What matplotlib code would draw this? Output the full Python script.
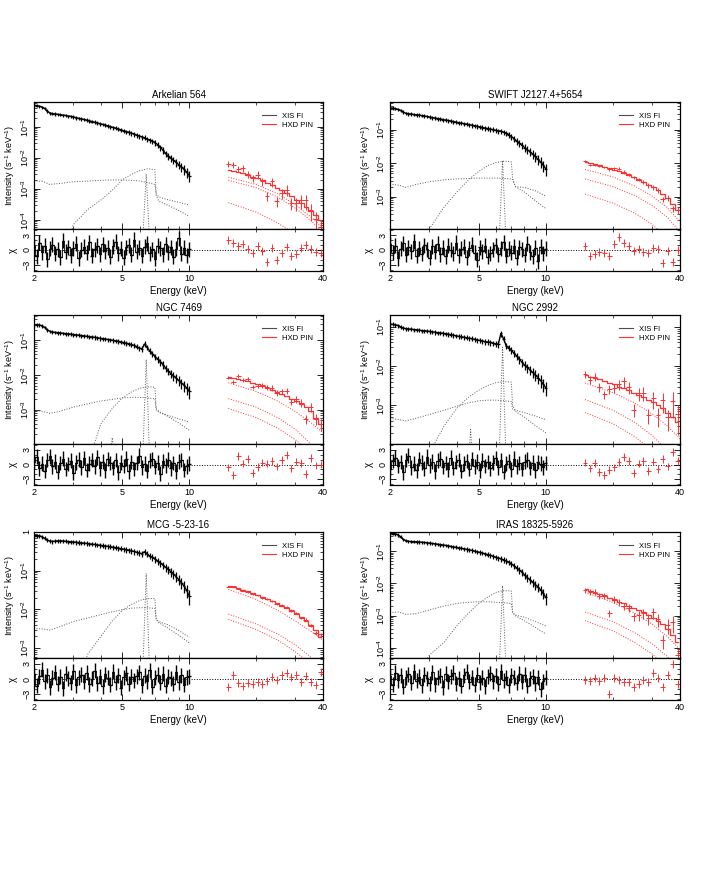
import numpy as np
import matplotlib
matplotlib.use("Agg")
import matplotlib.pyplot as plt
from matplotlib.ticker import FixedLocator, FuncFormatter, LogLocator, NullFormatter, MultipleLocator

plt.rcParams['font.family'] = ['Liberation Sans', 'DejaVu Sans']
plt.rcParams['mathtext.default'] = 'regular'

# ---- energy grids (keV) ----
xis_e = [2.00, 2.06, 2.11, 2.17, 2.23, 2.29, 2.36, 2.42, 2.49, 2.56,
         2.63, 2.70, 2.78, 2.85, 2.93, 3.01, 3.09, 3.18, 3.27, 3.36,
         3.45, 3.55, 3.64, 3.75, 3.85, 3.96, 4.07, 4.18, 4.29, 4.41,
         4.53, 4.66, 4.79, 4.92, 5.06, 5.20, 5.34, 5.49, 5.64, 5.79,
         5.95, 6.12, 6.29, 6.46, 6.64, 6.82, 7.01, 7.21, 7.41, 7.61,
         7.82, 8.04, 8.26, 8.49, 8.72, 8.96, 9.21, 9.47, 9.73, 9.99]
xis_relerr = [0.12, 0.12, 0.12, 0.12, 0.12, 0.12, 0.12, 0.12, 0.12, 0.12,
              0.12, 0.12, 0.12, 0.12, 0.12, 0.13, 0.13, 0.13, 0.13, 0.13,
              0.13, 0.13, 0.13, 0.14, 0.14, 0.14, 0.14, 0.14, 0.14, 0.15,
              0.15, 0.15, 0.15, 0.15, 0.16, 0.16, 0.16, 0.16, 0.17, 0.17,
              0.17, 0.18, 0.18, 0.18, 0.19, 0.19, 0.20, 0.21, 0.22, 0.23,
              0.24, 0.25, 0.26, 0.27, 0.28, 0.30, 0.32, 0.34, 0.36, 0.40]
comp_e = [2.0, 2.2, 2.35, 2.6, 3.0, 3.5, 4.0, 4.5, 5.0, 5.5, 6.0, 6.5, 7.0, 7.1, 7.3, 8.0, 9.0, 10.0]
hxd_e = [15.0, 15.8, 16.6, 17.4, 18.3, 19.3, 20.3, 21.3, 22.4, 23.6,
         24.8, 26.1, 27.4, 28.8, 30.3, 31.9, 33.5, 35.3, 37.1, 39.0]
hxd_errprof = [0.6, 0.6, 0.65, 0.7, 0.7, 0.75, 0.8, 0.85, 0.9, 0.95,
               1.0, 1.05, 1.1, 1.2, 1.3, 1.4, 1.5, 1.6, 1.8, 2.0]
hc_e = [15, 20, 25, 30, 35, 40]

# ---- Arkelian 564 ----
ark_xis = [0.50, 0.49, 0.47, 0.44, 0.40, 0.33, 0.28, 0.27, 0.265, 0.255,
           0.25, 0.24, 0.235, 0.225, 0.22, 0.21, 0.20, 0.19, 0.183, 0.175,
           0.167, 0.158, 0.15, 0.143, 0.135, 0.128, 0.121, 0.115, 0.109, 0.103,
           0.097, 0.092, 0.086, 0.081, 0.076, 0.071, 0.067, 0.063, 0.059, 0.055,
           0.051, 0.048, 0.045, 0.041, 0.038, 0.035, 0.031, 0.027, 0.022, 0.018,
           0.014, 0.0112, 0.0098, 0.0085, 0.0072, 0.0061, 0.0052, 0.0043, 0.0035, 0.0027]
ark_xis_res = [0.8, -1.2, 1.5, -0.4, 0.9, -1.8, 0.3, 1.1, -0.7, 0.2, -1.4, 1.9, -0.3, 0.6, -1.0,
               0.4, 1.3, -1.6, 0.1, 0.7, -0.5, 1.6, -1.1, 0.2, 0.9, -0.8, 1.2, -0.2, 0.5, -1.3,
               0.8, 1.7, -0.6, 0.3, -1.5, 0.6, 1.0, -0.9, 2.1, -0.3, 0.5, -1.1, 0.7, 1.4, -0.6,
               0.2, -1.7, 0.9, 0.4, -0.8, 1.2, -0.4, 0.6, -1.3, 0.3, 2.4, -0.7, 0.5, -1.0, 0.2]
ark_pl = [1.85e-3, 1.75e-3, 1.4e-3, 1.5e-3, 1.7e-3, 1.8e-3, 1.9e-3, 1.95e-3, 1.95e-3, 1.9e-3,
          1.8e-3, 1.6e-3, 1.4e-3, 7e-4, 5.5e-4, 4.5e-4, 3.7e-4, 3.0e-4]
ark_refl = [1e-6, 1e-6, 1e-6, 1e-6, 7e-5, 2.2e-4, 4.4e-4, 9e-4, 2e-3, 3e-3,
            3.9e-3, 4.5e-3, 4.2e-3, 6e-4, 4e-4, 3e-4, 2e-4, 1.3e-4]
ark_line = 3e-3
ark_hxd = [6.5e-3, 6.0e-3, 4.5e-3, 4.6e-3, 3.1e-3, 2.2e-3, 2.9e-3, 1.8e-3, 6e-4, 1.75e-3,
           4e-4, 7.5e-4, 9.5e-4, 3.5e-4, 3.5e-4, 4.3e-4, 4.3e-4, 2.1e-4, 1.1e-4, 6e-5]
ark_hxd_mod = [4.2e-3, 3.9e-3, 3.6e-3, 3.2e-3, 2.85e-3, 2.5e-3, 2.2e-3, 1.9e-3, 1.6e-3, 1.35e-3,
               1.1e-3, 9e-4, 7.3e-4, 5.8e-4, 4.5e-4, 3.4e-4, 2.6e-4, 1.9e-4, 1.4e-4, 1.0e-4]
ark_hxd_res = [2.0, 1.5, 0.8, 1.2, 0.3, -0.5, 0.9, -0.2, -2.3, 0.4,
               -2.0, -0.6, 0.7, -1.2, -0.8, 0.5, 1.0, 0.2, -0.4, -0.6]
ark_hc1 = [2.4e-3, 1.4e-3, 7e-4, 3.1e-4, 1.3e-4, 5.5e-5]
ark_hc2 = [1.9e-3, 1.1e-3, 5.5e-4, 2.4e-4, 1.0e-4, 4e-5]
ark_hc3 = [3.6e-4, 1.8e-4, 8e-5, 3.5e-5, 1.3e-5, 5e-6]

# ---- SWIFT J2127.4+5654 ----
swift_xis = [0.43, 0.435, 0.42, 0.40, 0.37, 0.33, 0.305, 0.295, 0.29, 0.28,
             0.275, 0.27, 0.26, 0.255, 0.245, 0.235, 0.228, 0.22, 0.213, 0.206,
             0.199, 0.192, 0.186, 0.179, 0.173, 0.166, 0.160, 0.155, 0.150, 0.145,
             0.140, 0.135, 0.130, 0.125, 0.120, 0.115, 0.111, 0.107, 0.103, 0.099,
             0.095, 0.091, 0.090, 0.084, 0.077, 0.070, 0.062, 0.053, 0.045, 0.039,
             0.034, 0.029, 0.025, 0.022, 0.019, 0.016, 0.013, 0.011, 0.0088, 0.0068]
swift_xis_res = [1.2, -0.5, 0.9, -1.6, 0.3, 1.4, -0.9, 0.6, -0.2, 1.8, -1.1, 0.4, -0.7, 1.0, 0.2,
                 -1.5, 0.8, -0.3, 1.3, -0.8, 0.5, -1.2, 0.9, 0.1, -0.6, 1.5, -1.0, 0.3, 0.7, -1.4,
                 0.4, 1.1, -0.5, -1.9, 0.6, -0.2, 0.9, -1.3, -0.6, 0.2, 1.0, -0.8, 0.4, 1.6, -1.1,
                 0.3, -0.5, 0.8, -1.5, 0.6, 0.2, -0.9, 1.3, -0.4, -1.2, 0.5, -2.2, 0.7, -0.6, 0.3]
swift_pl = [2.4e-3, 2.2e-3, 1.9e-3, 2.3e-3, 2.8e-3, 3.2e-3, 3.4e-3, 3.5e-3, 3.6e-3, 3.6e-3,
            3.6e-3, 3.5e-3, 3.4e-3, 3.3e-3, 2.0e-3, 1.9e-3, 1.5e-3, 1.05e-3]
swift_refl = [1e-6, 1e-6, 1e-6, 1e-6, 1.1e-4, 5e-4, 1.4e-3, 3.2e-3, 5.7e-3, 8.5e-3,
              1.05e-2, 1.15e-2, 1.1e-2, 3.5e-3, 2.0e-3, 1.4e-3, 7.5e-4, 4.5e-4]
swift_line = 1.2e-2
swift_hxd = [1.16e-2, 9.1e-3, 8.7e-3, 8.4e-3, 7.6e-3, 6.5e-3, 7.1e-3, 6.8e-3, 5.5e-3, 4.7e-3,
             3.75e-3, 3.3e-3, 2.7e-3, 2.2e-3, 1.95e-3, 1.58e-3, 8.5e-4, 9.4e-4, 4.5e-4, 4.0e-4]
swift_hxd_mod = [1.1e-2, 1.0e-2, 9.3e-3, 8.6e-3, 7.9e-3, 7.1e-3, 6.4e-3, 5.7e-3, 5.0e-3, 4.4e-3,
                 3.8e-3, 3.25e-3, 2.75e-3, 2.3e-3, 1.9e-3, 1.55e-3, 1.25e-3, 9.5e-4, 6e-4, 4e-4]
swift_hxd_res = [0.8, -1.2, -0.8, -0.4, -0.6, -1.1, 1.2, 2.6, 1.4, 0.9,
                 -0.2, 0.3, -0.4, -0.5, 0.5, 0.3, -2.5, -0.1, -2.4, 0.0]
swift_hc1 = [6.5e-3, 3.9e-3, 2.1e-3, 1.05e-3, 4.8e-4, 1.8e-4]
swift_hc2 = [3.4e-3, 2.0e-3, 1.1e-3, 5.5e-4, 2.5e-4, 9e-5]
swift_hc3 = [1.2e-3, 6.5e-4, 3.3e-4, 1.5e-4, 6e-5, 2e-5]

# ---- NGC 7469 ----
n7469_xis = [0.28, 0.28, 0.275, 0.26, 0.235, 0.20, 0.18, 0.172, 0.168, 0.165,
             0.162, 0.158, 0.155, 0.152, 0.149, 0.146, 0.143, 0.140, 0.136, 0.133,
             0.130, 0.127, 0.124, 0.121, 0.118, 0.114, 0.111, 0.108, 0.105, 0.102,
             0.099, 0.096, 0.093, 0.089, 0.086, 0.082, 0.079, 0.075, 0.071, 0.066,
             0.060, 0.056, 0.078, 0.062, 0.049, 0.041, 0.034, 0.029, 0.024, 0.020,
             0.016, 0.013, 0.011, 0.0095, 0.0082, 0.0070, 0.0060, 0.0051, 0.0043, 0.0035]
n7469_xis_res = [0.5, 1.6, -0.8, 0.2, -1.3, 0.9, 1.7, -0.4, 0.6, -1.5, 0.3, 1.2, -0.9, 0.1, 0.8,
                 -1.7, 0.4, 1.0, -0.6, 1.3, -1.1, 0.2, 0.9, -0.4, 1.5, -0.8, 0.6, -1.2, 1.1, 0.3,
                 -0.7, 0.9, -1.6, 0.4, -0.3, 1.2, -1.4, 0.5, -0.9, 0.3, 1.8, -0.6, 0.2, -1.3, 0.8,
                 1.1, -0.5, 0.4, -1.9, 0.7, -0.2, 1.0, -0.8, 0.3, -1.4, 0.6, 0.9, -1.1, -0.4, 0.2]
n7469_pl = [1.0e-3, 9e-4, 8e-4, 9e-4, 1.2e-3, 1.5e-3, 1.8e-3, 2.0e-3, 2.2e-3, 2.3e-3,
            2.3e-3, 2.2e-3, 2.1e-3, 1.0e-3, 8.5e-4, 7e-4, 5.5e-4, 4.5e-4]
n7469_refl = [1e-6, 1e-6, 1e-6, 1e-6, 1e-6, 3e-5, 4e-4, 1.1e-3, 2.2e-3, 3.3e-3,
              4.2e-3, 4.6e-3, 4.5e-3, 1.1e-3, 9e-4, 6.5e-4, 4.2e-4, 2.6e-4]
n7469_line = 2.8e-2
n7469_weak = (4.5, 1.6e-4)
n7469_hxd = [8.4e-3, 6.4e-3, 9.4e-3, 7.4e-3, 7.6e-3, 4.5e-3, 5.0e-3, 5.1e-3, 4.4e-3, 4.3e-3,
             3.06e-3, 3.45e-3, 3.5e-3, 1.74e-3, 2.05e-3, 1.6e-3, 5.5e-4, 1.24e-3, 5.6e-4, 4e-4]
n7469_hxd_mod = [9e-3, 8.4e-3, 7.8e-3, 7.2e-3, 6.6e-3, 6.0e-3, 5.4e-3, 4.8e-3, 4.3e-3, 3.8e-3,
                 3.3e-3, 2.9e-3, 2.5e-3, 2.1e-3, 1.8e-3, 1.5e-3, 1.2e-3, 9e-4, 6e-4, 4e-4]
n7469_hxd_res = [-0.6, -2.2, 1.8, 0.2, 1.2, -1.8, -0.5, 0.4, 0.2, 0.8,
                 -0.4, 1.0, 2.0, -0.8, 0.6, 0.3, -2.0, 1.3, -0.2, 0.0]
n7469_hc1 = [6e-3, 3.4e-3, 1.8e-3, 9e-4, 4.5e-4, 2.2e-4]
n7469_hc2 = [2.1e-3, 1.2e-3, 6e-4, 2.8e-4, 1.1e-4, 4e-5]
n7469_hc3 = [1.1e-3, 6e-4, 3e-4, 1.4e-4, 6e-5, 2e-5]

# ---- NGC 2992 ----
n2992_xis = [0.115, 0.116, 0.113, 0.108, 0.10, 0.093, 0.090, 0.088, 0.087, 0.085,
             0.084, 0.082, 0.080, 0.079, 0.078, 0.076, 0.075, 0.073, 0.071, 0.070,
             0.068, 0.067, 0.065, 0.063, 0.061, 0.059, 0.057, 0.056, 0.054, 0.053,
             0.051, 0.050, 0.048, 0.046, 0.045, 0.043, 0.042, 0.041, 0.040, 0.038,
             0.037, 0.036, 0.068, 0.050, 0.033, 0.029, 0.025, 0.021, 0.018, 0.015,
             0.0125, 0.0105, 0.0092, 0.0080, 0.0069, 0.0060, 0.0051, 0.0043, 0.0035, 0.0028]
n2992_xis_res = [-0.9, 0.7, 1.4, -0.3, 0.5, -1.6, 0.9, 1.8, -0.6, 0.2, -1.2, 1.1, 0.4, -0.8, 1.6,
                 -0.2, 0.6, -1.4, 0.8, 1.2, -0.5, 0.3, -1.0, 1.4, -0.7, 0.5, 0.9, -1.3, 0.2, 0.7,
                 -0.9, 1.1, -0.4, 0.6, -1.2, 0.8, -0.3, 0.5, -0.8, 0.4, 1.3, -0.6, 0.9, -1.5, 0.2,
                 0.7, -1.0, 1.2, -0.4, 0.3, -0.9, 0.6, 1.0, -0.7, 0.4, -1.2, 0.5, 0.2, -0.6, 0.3]
n2992_pl = [4.6e-4, 4.3e-4, 4.0e-4, 4.6e-4, 5.8e-4, 7.5e-4, 9.5e-4, 1.15e-3, 1.3e-3, 1.35e-3,
            1.35e-3, 1.3e-3, 1.25e-3, 8e-4, 7.5e-4, 6.5e-4, 5.3e-4, 4.3e-4]
n2992_refl = [1e-6, 1e-6, 1e-6, 1e-6, 6e-5, 3e-4, 8.5e-4, 1.6e-3, 2.4e-3, 3.2e-3,
              3.8e-3, 4.0e-3, 3.9e-3, 1.0e-3, 7e-4, 5e-4, 3e-4, 2e-4]
n2992_line = 3e-2
n2992_weak = (4.6, 2.4e-4)
n2992_hxd = [6.3e-3, 4.5e-3, 5.3e-3, 2.9e-3, 1.9e-3, 2.6e-3, 2.8e-3, 3.45e-3, 4.1e-3, 2.95e-3,
             7.8e-4, 2.0e-3, 2.1e-3, 5.8e-4, 1.5e-3, 5.6e-4, 1.35e-3, 5e-4, 1.3e-3, 5.9e-4]
n2992_hxd_mod = [5.8e-3, 5.4e-3, 5.0e-3, 4.6e-3, 4.2e-3, 3.8e-3, 3.4e-3, 3.0e-3, 2.7e-3, 2.4e-3,
                 2.1e-3, 1.85e-3, 1.6e-3, 1.4e-3, 1.2e-3, 1.0e-3, 8.3e-4, 6.5e-4, 5e-4, 3.8e-4]
n2992_hxd_res = [0.4, -0.8, 0.3, -1.5, -2.2, -1.2, -0.6, 0.5, 1.6, 0.7,
                 -1.8, 0.2, 0.8, -1.4, 0.6, -0.9, 1.2, -0.4, 2.5, 0.8]
n2992_hc1 = [3.7e-3, 2.1e-3, 1.15e-3, 6e-4, 3e-4, 1.4e-4]
n2992_hc2 = [1.4e-3, 7.5e-4, 3.7e-4, 1.7e-4, 7e-5, 3e-5]
n2992_hc3 = [6.5e-4, 3.4e-4, 1.6e-4, 7e-5, 3e-5, 1e-5]

# ---- MCG -5-23-16 ----
mcg_xis = [0.80, 0.81, 0.80, 0.76, 0.69, 0.62, 0.58, 0.57, 0.58, 0.59,
           0.59, 0.585, 0.575, 0.565, 0.56, 0.55, 0.545, 0.535, 0.525, 0.515,
           0.505, 0.495, 0.485, 0.475, 0.465, 0.455, 0.445, 0.435, 0.425, 0.415,
           0.405, 0.395, 0.385, 0.37, 0.36, 0.35, 0.34, 0.325, 0.315, 0.30,
           0.285, 0.275, 0.31, 0.27, 0.24, 0.22, 0.20, 0.178, 0.158, 0.14,
           0.123, 0.108, 0.094, 0.082, 0.070, 0.059, 0.049, 0.040, 0.031, 0.022]
mcg_xis_res = [1.0, -1.3, 0.6, 1.9, -0.4, 0.8, -1.6, 0.3, 1.4, -0.9, 0.5, -1.8, 1.1, 0.2, -0.7,
               1.6, -1.2, 0.4, 0.9, -0.5, 1.3, -1.0, 0.1, 1.7, -0.8, 0.6, -1.4, 1.0, 0.3, -1.1,
               1.5, -0.6, 0.8, -1.7, 0.4, 1.2, -0.9, 0.5, -0.3, 0.6, 1.4, -1.2, 0.7, -0.4, 1.8,
               -1.5, 0.3, 0.9, -0.7, 1.1, -1.3, 0.5, 0.2, -0.9, 1.4, -0.6, 0.8, -1.1, 0.4, 0.6]
mcg_pl = [3.2e-3, 3.1e-3, 2.9e-3, 3.5e-3, 4.8e-3, 6e-3, 7.3e-3, 8.6e-3, 9.8e-3, 1.07e-2,
          1.1e-2, 1.1e-2, 1.05e-2, 5.5e-3, 4.8e-3, 4.0e-3, 2.8e-3, 1.9e-3]
mcg_refl = [1e-6, 1e-6, 1e-6, 1e-6, 1e-4, 7e-4, 2e-3, 5e-3, 9.5e-3, 1.35e-2,
            1.7e-2, 1.9e-2, 1.9e-2, 5.5e-3, 4.5e-3, 3.3e-3, 2.1e-3, 1.35e-3]
mcg_line = 8.5e-2
mcg_hxd = [3.88e-2, 3.91e-2, 3.4e-2, 3.03e-2, 2.8e-2, 2.48e-2, 2.28e-2, 2.0e-2, 1.82e-2, 1.66e-2,
           1.4e-2, 1.29e-2, 1.14e-2, 9.4e-3, 8.1e-3, 6.0e-3, 5.4e-3, 3.8e-3, 2.5e-3, 2.24e-3]
mcg_hxd_mod = [4.1e-2, 3.8e-2, 3.5e-2, 3.2e-2, 2.9e-2, 2.6e-2, 2.35e-2, 2.1e-2, 1.85e-2, 1.62e-2,
               1.42e-2, 1.23e-2, 1.06e-2, 9.1e-3, 7.6e-3, 6.3e-3, 5.1e-3, 4.0e-3, 2.9e-3, 1.9e-3]
mcg_hxd_res = [-1.5, 0.8, -0.7, -1.3, -0.8, -1.0, -0.6, -0.9, -0.3, 0.4,
               -0.2, 0.8, 1.2, 0.4, 0.9, -0.5, 0.6, -0.5, -1.2, 1.5]
mcg_hc1 = [3.3e-2, 1.8e-2, 9.5e-3, 5e-3, 2.8e-3, 1.6e-3]
mcg_hc2 = [7.5e-3, 4.2e-3, 2.3e-3, 1.2e-3, 6e-4, 3e-4]
mcg_hc3 = [5.5e-3, 3e-3, 1.6e-3, 8e-4, 4e-4, 2e-4]

# ---- IRAS 18325-5926 ----
iras_xis = [0.35, 0.35, 0.34, 0.32, 0.28, 0.23, 0.21, 0.20, 0.198, 0.196,
            0.194, 0.192, 0.188, 0.185, 0.181, 0.177, 0.172, 0.168, 0.163, 0.159,
            0.154, 0.150, 0.145, 0.140, 0.135, 0.131, 0.126, 0.122, 0.117, 0.113,
            0.109, 0.105, 0.100, 0.096, 0.091, 0.087, 0.082, 0.078, 0.074, 0.069,
            0.065, 0.061, 0.058, 0.054, 0.050, 0.045, 0.040, 0.035, 0.030, 0.026,
            0.022, 0.018, 0.015, 0.013, 0.011, 0.0092, 0.0078, 0.0064, 0.0050, 0.0037]
iras_xis_res = [0.6, -1.1, 1.3, -0.2, 0.8, -1.5, 0.4, 1.0, -0.7, 1.6, -0.3, 0.5, -1.2, 0.9, 0.2,
                -0.8, 1.4, -1.0, 0.3, 0.7, -1.6, 1.1, -0.4, 0.6, 1.3, -0.9, 0.2, -1.3, 0.8, 1.5,
                -0.5, 0.4, -1.1, 0.9, -0.6, 0.3, -1.4, 0.5, 1.2, -0.4, 0.7, -0.9, 1.6, -0.2, 0.4,
                -1.2, 0.8, 0.3, -0.7, 1.1, -0.5, 0.9, -1.3, 0.2, 0.6, -0.8, 0.4, -2.0, -0.4, 0.3]
iras_pl = [1.25e-3, 1.3e-3, 1.1e-3, 1.15e-3, 1.5e-3, 2.0e-3, 2.4e-3, 2.6e-3, 2.7e-3, 2.7e-3,
           2.6e-3, 2.5e-3, 2.4e-3, 1.2e-3, 1.05e-3, 9e-4, 6.5e-4, 4.8e-4]
iras_refl = [1e-6, 1e-6, 1e-6, 1e-5, 6e-5, 1.5e-4, 5e-4, 1.2e-3, 2.4e-3, 3.8e-3,
             5.3e-3, 6.0e-3, 5.8e-3, 1.3e-3, 1.0e-3, 7e-4, 4.3e-4, 2.7e-4]
iras_line = 8.5e-3
iras_hxd = [6.3e-3, 5.5e-3, 5.5e-3, 4.2e-3, 4.3e-3, 1.2e-3, 3.3e-3, 2.6e-3, 2.0e-3, 1.76e-3,
            9.6e-4, 1.03e-3, 1.19e-3, 8.2e-4, 1.26e-3, 7.9e-4, 1.75e-4, 5.3e-4, 6.5e-4, 6e-5]
iras_hxd_mod = [6.5e-3, 5.8e-3, 5.2e-3, 4.6e-3, 4.1e-3, 3.6e-3, 3.15e-3, 2.75e-3, 2.4e-3, 2.05e-3,
                1.75e-3, 1.5e-3, 1.27e-3, 1.05e-3, 8.6e-4, 7e-4, 5.4e-4, 3.8e-4, 2.5e-4, 1.5e-4]
iras_hxd_res = [-0.2, -0.3, 0.3, -0.4, 0.2, -3.0, 0.2, -0.2, -0.6, -0.5,
                -1.5, -1.0, -0.2, -0.6, 1.2, 0.3, -1.5, 0.8, 3.0, -1.0]
iras_hc1 = [5.3e-3, 2.6e-3, 1.2e-3, 5.5e-4, 2.3e-4, 9e-5]
iras_hc2 = [1.3e-3, 6.5e-4, 3e-4, 1.35e-4, 5.5e-5, 2e-5]
iras_hc3 = [7e-4, 3.4e-4, 1.5e-4, 6.5e-5, 2.6e-5, 1e-5]

names = ["Arkelian 564", "SWIFT J2127.4+5654", "NGC 7469", "NGC 2992", "MCG -5-23-16", "IRAS 18325-5926"]
ylims = [(5.1e-5, 0.64), (1.1e-4, 0.66), (1.05e-4, 0.53), (1.03e-4, 0.2), (5.5e-4, 1.0), (4.9e-5, 0.39)]
hxd_scale = [0.35, 0.12, 0.18, 0.35, 0.06, 0.3]

panels = [
    (ark_xis, ark_xis_res, ark_pl, ark_refl, ark_line, None, ark_hxd, ark_hxd_mod, ark_hxd_res, (ark_hc1, ark_hc2, ark_hc3)),
    (swift_xis, swift_xis_res, swift_pl, swift_refl, swift_line, None, swift_hxd, swift_hxd_mod, swift_hxd_res, (swift_hc1, swift_hc2, swift_hc3)),
    (n7469_xis, n7469_xis_res, n7469_pl, n7469_refl, n7469_line, n7469_weak, n7469_hxd, n7469_hxd_mod, n7469_hxd_res, (n7469_hc1, n7469_hc2, n7469_hc3)),
    (n2992_xis, n2992_xis_res, n2992_pl, n2992_refl, n2992_line, n2992_weak, n2992_hxd, n2992_hxd_mod, n2992_hxd_res, (n2992_hc1, n2992_hc2, n2992_hc3)),
    (mcg_xis, mcg_xis_res, mcg_pl, mcg_refl, mcg_line, None, mcg_hxd, mcg_hxd_mod, mcg_hxd_res, (mcg_hc1, mcg_hc2, mcg_hc3)),
    (iras_xis, iras_xis_res, iras_pl, iras_refl, iras_line, None, iras_hxd, iras_hxd_mod, iras_hxd_res, (iras_hc1, iras_hc2, iras_hc3)),
]

W, H = 707, 875
col_x = [34, 390]
col_w = [289, 290]
row_top = [102, 315, 532]
main_h = [127, 129, 126]
res_h = [42, 41, 42]

RED = '#ff3030'
GREY = '0.35'
FS = 6.5


def logfmt(v, pos):
    ex = int(round(np.log10(v)))
    if ex == 0:
        return '1'
    return '10$^{%d}$' % ex


def style_x(ax):
    ax.set_xscale('log')
    ax.set_xlim(2, 40)
    ax.xaxis.set_major_locator(FixedLocator([2, 5, 10, 40]))
    ax.xaxis.set_minor_locator(FixedLocator([3, 4, 6, 7, 8, 9, 20, 30]))
    ax.xaxis.set_major_formatter(FuncFormatter(lambda v, p: '%d' % v))
    ax.xaxis.set_minor_formatter(NullFormatter())
    ax.tick_params(which='both', direction='in', top=True, right=True, labelsize=FS, pad=2)
    ax.tick_params(which='major', length=4, width=0.6)
    ax.tick_params(which='minor', length=2, width=0.5)
    for s in ax.spines.values():
        s.set_linewidth(0.9)


fig = plt.figure(figsize=(W / 100, H / 100), dpi=100)

for k, p in enumerate(panels):
    xis, xis_res, pl, refl, line, weak, hxd, hxd_mod, hxd_res, hcs = p
    row, col = divmod(k, 2)
    x0 = col_x[col] / W
    w = col_w[col] / W
    top = row_top[row]
    mb = top + main_h[row]
    rb = mb + res_h[row]
    axm = fig.add_axes([x0, 1 - mb / H, w, main_h[row] / H])
    axr = fig.add_axes([x0, 1 - rb / H, w, res_h[row] / H])
    ybot = ylims[k][0]

    e = np.array(xis_e)
    xe = e * 0.014
    y = np.array(xis)
    ye = y * np.array(xis_relerr)
    he = np.array(hxd_e)
    hxe = he * 0.025
    hy = np.array(hxd)
    hr = hxd_scale[k] * np.array(hxd_errprof)
    hlo = hy * np.minimum(hr, 0.97)
    hhi = hy * hr

    # main panel: model components, XIS data, HXD data
    axm.plot(comp_e, pl, ls=':', color=GREY, lw=0.7)
    axm.plot(comp_e, refl, ls=':', color=GREY, lw=0.7)
    axm.plot([6.18, 6.4, 6.62], [ybot * 0.5, line, ybot * 0.5], ls=':', color=GREY, lw=0.7)
    if weak is not None:
        axm.plot([weak[0] - 0.08, weak[0], weak[0] + 0.08], [ybot * 0.5, weak[1], ybot * 0.5],
                 ls=':', color=GREY, lw=0.7)
    axm.plot(e, y, color='k', lw=1.0)
    axm.errorbar(e, y, xerr=xe, yerr=ye, fmt='none', ecolor='k', elinewidth=0.9)
    for hc in hcs:
        axm.plot(hc_e, hc, ls=':', color=RED, lw=0.7)
    axm.step(he, hxd_mod, where='mid', color=RED, lw=0.9)
    axm.errorbar(he, hy, xerr=hxe, yerr=[hlo, hhi], fmt='none', ecolor=RED, elinewidth=0.7)

    style_x(axm)
    axm.tick_params(labelbottom=False)
    axm.set_yscale('log')
    axm.set_ylim(*ylims[k])
    axm.yaxis.set_major_locator(LogLocator(base=10))
    axm.yaxis.set_minor_locator(LogLocator(base=10, subs=np.arange(2, 10)))
    axm.yaxis.set_major_formatter(FuncFormatter(logfmt))
    axm.yaxis.set_minor_formatter(NullFormatter())
    axm.tick_params(axis='y', labelrotation=90)
    for t in axm.get_yticklabels():
        t.set_va('center')
    axm.set_ylabel('Intensity (s$^{-1}$ keV$^{-1}$)', fontsize=FS, labelpad=2)
    axm.set_title(names[k], fontsize=7, pad=3)
    lx, = axm.plot([], [], color='0.3', lw=0.8, label='XIS FI')
    lh, = axm.plot([], [], color=RED, lw=0.8, label='HXD PIN')
    axm.legend(handles=[lx, lh], loc='upper right', bbox_to_anchor=(0.99, 0.97), frameon=False,
               fontsize=5.5, handlelength=1.8, handletextpad=0.8, labelspacing=0.2)

    # residual panel
    axr.axhline(0, color='k', ls=':', lw=0.7)
    axr.step(e, xis_res, where='mid', color='k', lw=0.6)
    axr.errorbar(e, xis_res, xerr=xe, yerr=1.5, fmt='none', ecolor='k', elinewidth=1.0)
    axr.errorbar(he, hxd_res, xerr=hxe, yerr=0.8, fmt='none', ecolor=RED, elinewidth=0.7)
    style_x(axr)
    axr.set_ylim(-4.2, 4.2)
    axr.yaxis.set_major_locator(FixedLocator([-3, 0, 3]))
    axr.yaxis.set_minor_locator(MultipleLocator(1))
    axr.tick_params(axis='y', labelrotation=90)
    for t in axr.get_yticklabels():
        t.set_va('center')
    axr.set_ylabel('χ', fontsize=FS + 0.5, labelpad=3)
    axr.set_xlabel('Energy (keV)', fontsize=FS + 0.5, labelpad=2)

fig.savefig('out.png', dpi=100)
